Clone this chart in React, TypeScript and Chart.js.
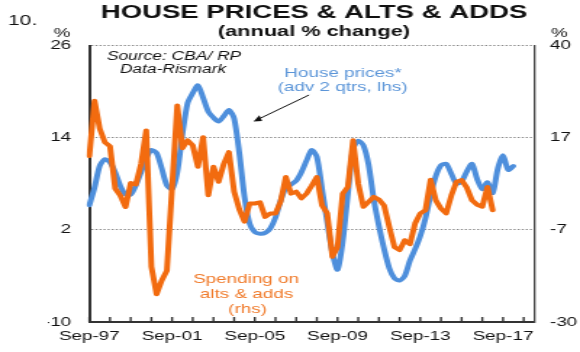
import React, { useEffect, useRef } from "react";
import { Chart, registerables } from "chart.js";

Chart.register(...registerables);

// ---------- data ----------
const QUARTER_MONTHS = ["Mar", "Jun", "Sep", "Dec"];
const FIRST_YEAR = 1997;
const FIRST_QUARTER = 2; // Sep
const QUARTER_COUNT = 87; // Sep-97 .. Mar-19

const QUARTERS: string[] = (() => {
  const out: string[] = [];
  let y = FIRST_YEAR;
  let qi = FIRST_QUARTER;
  for (let i = 0; i < QUARTER_COUNT; i++) {
    out.push(`${QUARTER_MONTHS[qi]}-${String(y % 100).padStart(2, "0")}`);
    qi++;
    if (qi === 4) {
      qi = 0;
      y++;
    }
  }
  return out;
})();

const X_TICK_LABELS = ["Sep-97", "Sep-01", "Sep-05", "Sep-09", "Sep-13", "Sep-17"];
const LEFT_TICKS = [-10, 2, 14, 26];
const RIGHT_TICKS = [-30, -7, 17, 40];

// House prices (advanced 2 qtrs), lhs, % y/y
const HOUSE_PRICES = [
  5.2, 7.5, 10.3, 11.2, 10.8, 9.5, 7.7, 6.6, 6.6, 7.8,
  9.5, 11.3, 12.4, 12.0, 10.0, 7.8, 7.3, 9.5, 14.5, 18.5,
  19.8, 20.8, 19.2, 17.4, 16.6, 16.1, 16.8, 17.6, 16.5, 12.0,
  6.3, 2.8, 1.7, 1.5, 1.6, 2.2, 3.6, 5.8, 7.5, 7.9,
  8.4, 9.5, 11.0, 12.4, 11.5, 7.3, 3.0, -1.0, -3.2, 0.5,
  6.7, 12.5, 13.6, 13.0, 10.5, 6.0, 2.5, -0.5, -3.0, -4.3,
  -4.6, -4.0, -2.0, -0.5, 1.2, 3.5, 6.5, 9.0, 10.4, 10.6,
  9.3, 8.0, 8.3, 9.6, 10.6, 8.6, 7.3, 8.2, 6.8, 10.0,
  11.7, 9.8, 10.3,
];

// Spending on alterations & additions, rhs, % y/y
const ALTS_ADDS = [
  12.0, 26.0, 19.0, 15.5, 14.5, 3.8, 2.0, -0.9, 5.2, 4.8,
  10.0, 18.5, -16.0, -23.0, -19.5, -17.0, 4.0, 24.8, 14.0, 16.0,
  14.7, 9.3, 16.8, 2.1, 9.3, 5.5, 10.0, 13.0, 3.0, -1.5,
  -4.6, 0.0, 0.0, 0.3, -3.4, -2.5, -2.5, 0.5, 6.7, 2.5,
  3.0, 1.3, 2.5, 4.5, 6.7, -0.5, -2.5, -13.5, -11.0, 2.5,
  4.2, 16.0, 5.0, -0.85, 0.4, 1.7, 1.0, -0.5, -5.9, -11.0,
  -11.8, -9.3, -10.3, -5.0, -2.5, -1.7, 6.0, 0.8, -1.3, -2.5,
  2.0, 5.5, 5.9, 4.0, 0.8, -0.3, -0.8, 4.2, -1.7,
];

// ---------- look ----------
const CANVAS_W = 400; // drawing buffer, stretched to 580 css px
const CANVAS_H = 352;
const CSS_W = 580;
const SX = CSS_W / CANVAS_W;
const BLUE = "#4e8fdc";
const ORANGE = "#f26b0f";
const BLUE_TEXT = "#5b95d8";
const ORANGE_TEXT = "#f07a2a";
const FONT = "'Liberation Sans', Arial, sans-serif";

const fx = (px: number) => px / SX;

const annotations = {
  id: "annotations",
  afterDraw(chart: any) {
    const { ctx, chartArea } = chart;
    const xs = chart.scales.x;
    ctx.save();

    // inward tick marks on the time axis
    ctx.strokeStyle = "#333";
    ctx.lineWidth = 1.4;
    QUARTERS.forEach((q, i) => {
      if (q.startsWith("Sep")) {
        const x = xs.getPixelForValue(i);
        ctx.beginPath();
        ctx.moveTo(x, chartArea.bottom);
        ctx.lineTo(x, chartArea.bottom - 5);
        ctx.stroke();
      }
    });

    ctx.textBaseline = "alphabetic";

    // chart number
    ctx.fillStyle = "#111";
    ctx.font = `14.5px ${FONT}`;
    ctx.textAlign = "left";
    ctx.fillText("10.", fx(8), 25);

    // % units
    ctx.font = `13px ${FONT}`;
    ctx.textAlign = "right";
    ctx.fillText("%", fx(70.5), 36.5);
    ctx.textAlign = "left";
    ctx.fillText("%", fx(551), 36.5);

    // source
    ctx.font = `italic 12px ${FONT}`;
    ctx.textAlign = "center";
    ctx.fillText("Source: CBA/ RP", fx(174), 60);
    ctx.fillText("Data-Rismark", fx(173), 72.5);

    // house prices label
    ctx.fillStyle = BLUE_TEXT;
    ctx.font = `13px ${FONT}`;
    ctx.fillText("House prices*", fx(343), 76.5);
    ctx.fillText("(adv 2 qtrs, lhs)", fx(342.5), 91);

    // spending label
    ctx.fillStyle = ORANGE_TEXT;
    ctx.fillText("Spending on", fx(246), 282.7);
    ctx.fillText("alts & adds", fx(246.5), 297.7);
    ctx.fillText("(rhs)", fx(247.5), 312.7);

    // arrow
    const x1 = 309, y1 = 95, x2 = 253.5, y2 = 121.5;
    ctx.strokeStyle = "#111";
    ctx.fillStyle = "#111";
    ctx.lineWidth = 1;
    ctx.beginPath();
    ctx.moveTo(fx(x1), y1);
    ctx.lineTo(fx(x2 + 5), y2 - 2.4);
    ctx.stroke();
    const ang = Math.atan2(y2 - y1, x2 - x1);
    const hl = 8, hw = 3.2;
    const bx = x2 - hl * Math.cos(ang), by = y2 - hl * Math.sin(ang);
    const px = -Math.sin(ang) * hw, py = Math.cos(ang) * hw;
    ctx.beginPath();
    ctx.moveTo(fx(x2), y2);
    ctx.lineTo(fx(bx + px), by + py);
    ctx.lineTo(fx(bx - px), by - py);
    ctx.closePath();
    ctx.fill();

    ctx.restore();
  },
};

export default function App() {
  const ref = useRef<HTMLCanvasElement>(null);

  useEffect(() => {
    document.body.style.margin = "0";
    const canvas = ref.current;
    if (!canvas) return;
    Chart.defaults.font.family = FONT;

    const chart = new Chart(canvas, {
      type: "line",
      data: {
        labels: QUARTERS,
        datasets: [
          {
            label: "Spending on alts & adds (rhs)",
            data: ALTS_ADDS,
            yAxisID: "y1",
            borderColor: ORANGE,
            borderWidth: 4,
            pointRadius: 0,
            tension: 0,
            borderJoinStyle: "round",
            borderCapStyle: "round",
            fill: false,
          },
          {
            label: "House prices* (adv 2 qtrs, lhs)",
            data: HOUSE_PRICES,
            yAxisID: "y",
            borderColor: BLUE,
            borderWidth: 4,
            pointRadius: 0,
            tension: 0.25,
            borderJoinStyle: "round",
            borderCapStyle: "round",
            fill: false,
          },
        ],
      },
      options: {
        responsive: false,
        animation: false,
        devicePixelRatio: 1,
        events: [],
        layout: { padding: { left: 33, right: 0, top: 0, bottom: 0 } },
        plugins: {
          legend: { display: false },
          tooltip: { enabled: false },
          title: {
            display: true,
            text: "HOUSE PRICES & ALTS & ADDS",
            color: "#111",
            font: { size: 19, weight: "bold", lineHeight: 1 },
            padding: { top: 3.6, bottom: 0 },
          },
          subtitle: {
            display: true,
            text: "(annual % change)",
            color: "#111",
            font: { size: 15, weight: "bold", lineHeight: 1 },
            padding: { top: 2.25, bottom: 5.65 },
          },
        },
        scales: {
          x: {
            type: "category",
            offset: false,
            grid: { drawOnChartArea: false, drawTicks: false },
            border: { display: true, color: "#333", width: 2 },
            ticks: {
              autoSkip: false,
              maxRotation: 0,
              minRotation: 0,
              padding: 7,
              color: "#111",
              font: { size: 13 },
              callback: (_v: any, i: number) =>
                X_TICK_LABELS.includes(QUARTERS[i]) ? QUARTERS[i] : "",
            },
            afterFit: (s: any) => {
              s.height = 30;
            },
          },
          y: {
            position: "left",
            min: LEFT_TICKS[0],
            max: LEFT_TICKS[LEFT_TICKS.length - 1],
            grid: { color: "#8a8a8a", lineWidth: 1, drawTicks: false },
            border: { display: true, color: "#333", width: 2, dash: [1.4, 1.4] },
            ticks: {
              count: LEFT_TICKS.length,
              padding: 12.5,
              color: "#111",
              font: { size: 13 },
              callback: (_v: any, i: number) => String(LEFT_TICKS[i]),
            },
            afterFit: (s: any) => {
              s.width = 61.6 - 33;
            },
          },
          y1: {
            position: "right",
            min: RIGHT_TICKS[0],
            max: RIGHT_TICKS[RIGHT_TICKS.length - 1],
            grid: { drawOnChartArea: false, drawTicks: false },
            border: { display: true, color: "#444", width: 1.3 },
            ticks: {
              count: RIGHT_TICKS.length,
              padding: 11,
              color: "#111",
              font: { size: 13 },
              callback: (_v: any, i: number) => String(RIGHT_TICKS[i]),
            },
            afterFit: (s: any) => {
              s.width = CANVAS_W - 368.3;
            },
          },
        },
      },
      plugins: [annotations],
    } as any);

    return () => chart.destroy();
  }, []);

  return (
    <div style={{ width: CSS_W, height: CANVAS_H, position: "relative", overflow: "hidden", background: "#fff" }}>
      <canvas
        ref={ref}
        width={CANVAS_W}
        height={CANVAS_H}
        style={{ width: `${CSS_W}px`, height: `${CANVAS_H}px`, display: "block" }}
      />
    </div>
  );
}
